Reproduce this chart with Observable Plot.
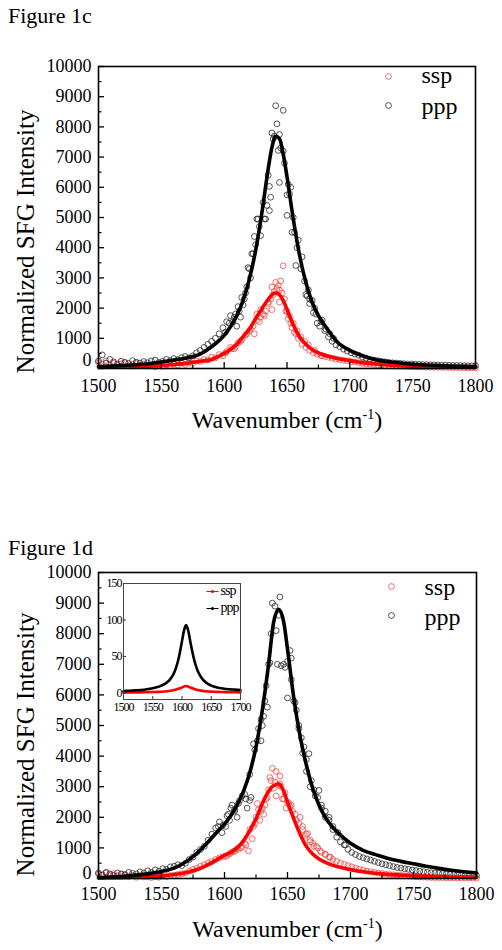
<!DOCTYPE html>
<html>
<head>
<meta charset="utf-8">
<script src="https://cdn.jsdelivr.net/npm/d3@7"></script>
<script src="https://cdn.jsdelivr.net/npm/@observablehq/plot@0.6"></script>
<style>
html,body{margin:0;padding:0;background:#fff;}
#page{position:relative;width:502px;height:950px;overflow:hidden;background:#fff;font-family:"Liberation Serif","DejaVu Serif",serif;}
#page svg, #page svg text{font-family:"Liberation Serif","DejaVu Serif",serif !important;}
.fig{position:absolute;left:8px;z-index:5;font-family:"Liberation Serif","DejaVu Serif",serif;font-size:22px;line-height:22px;color:#000;white-space:nowrap;}
.chart{position:absolute;left:0;width:502px;}
.inset{position:absolute;width:160px;z-index:3;}
</style>
</head>
<body>
<div id="page">
  <div class="chart" id="c1" style="top:0px"></div>
  <div class="chart" id="c2" style="top:470px"></div>
  <div class="inset" id="c3" style="left:90px;top:575px"></div>
  <div class="fig" style="top:5px">Figure 1c</div>
  <div class="fig" style="top:537px">Figure 1d</div>
</div>
<script>
// ---------- text / ticks ----------
const seriesNames = ["ssp", "ppp"];
const xLabelMain = "Wavenumber (cm", xLabelSup = "-1", xLabelEnd = ")";
const xLabel = xLabelMain + xLabelSup + xLabelEnd;
const yLabel = "Normalized SFG Intensity";
const xTicks = [1500, 1550, 1600, 1650, 1700, 1750, 1800];
const xMinorTicks = [1525, 1575, 1625, 1675, 1725, 1775];
const yTicks = [0, 1000, 2000, 3000, 4000, 5000, 6000, 7000, 8000, 9000, 10000];
const yMinorTicks = [500, 1500, 2500, 3500, 4500, 5500, 6500, 7500, 8500, 9500];
const insetXTicks = [1500, 1550, 1600, 1650, 1700];
const insetYTicks = [0, 50, 100, 150];

// ---------- measured points (shared wavenumbers) ----------
const scatterX = [1500,1503,1506,1509,1512,1515,1518,1521,1524,1527,
  1530,1533,1536,1539,1542,1545,1548,1551,1554,1557,
  1560,1563,1566,1569,1572,1575,1578,1581,1584,1587,
  1590,1593,1596,1599,1602,1605,1608,1611,1614,1617,
  1620,1623,1626,1629,1632,1635,1638,1641,1644,1647,
  1650,1653,1656,1659,1662,1665,1668,1671,1674,1677,
  1680,1683,1686,1689,1692,1695,1698,1701,1704,1707,
  1710,1713,1716,1719,1722,1725,1728,1731,1734,1737,
  1740,1743,1746,1749,1752,1755,1758,1761,1764,1767,
  1770,1773,1776,1779,1782,1785,1788,1791,1794,1797,
  1800];

// Figure 1c points
const c_pppPts = [250,450,180,300,220,150,240,200,170,260,
  210,180,230,190,250,280,200,240,300,260,
  330,290,360,400,350,420,520,600,700,800,
  900,1000,1150,1350,1550,1750,1700,2050,2350,2500,
  3300,3800,4950,4400,4950,6400,7800,8700,7750,8550,
  5750,6000,4500,4250,3700,2450,2300,1850,1500,1550,
  1250,1050,900,780,720,640,580,520,480,440,
  380,340,300,280,260,240,220,200,190,180,
  170,160,150,150,140,135,130,125,120,120,
  115,110,110,105,100,100,95,95,90,90,
  90];
const c_pppExtraX = [1642,1640,1643,1647,1636,1644,1637,1652,1634,1636,1650,1627,1633,1654,1624,1622,1657,1619,1618,1670,1666,1615,1613,1673,1676,1610,1668,1612,
  1601,1604,1607,1609,1616,1621,1625,1628,1631,1639,1645,1648,1651,1655,1658,1661,1664,1667,1672,1678,1681,1684,1687];
const c_pppExtraY = [8100,7700,7220,7200,6030,6160,5670,5780,5400,5230,5070,4950,4950,4510,4370,3800,3410,3340,2700,2250,2400,2100,1700,1800,1400,1400,2150,1900,
  1200,1500,1550,1800,2300,3000,4100,4700,5500,7600,7300,6800,6100,5000,4000,3300,2900,2600,2000,1600,1300,1150,1000];
const c_sspPts = [200,150,250,120,180,100,160,200,90,140,
  180,110,150,80,120,60,100,70,120,90,
  150,110,180,140,200,170,250,230,300,280,
  380,350,460,420,560,700,650,850,950,1100,
  1250,1400,1800,1950,1750,2200,2700,2850,2600,3400,
  1900,1500,1200,1000,800,700,600,520,480,430,
  400,370,340,310,290,270,250,230,210,190,
  170,150,140,130,120,110,100,95,90,80,
  75,70,65,60,55,50,50,45,45,40,
  40,38,35,35,30,30,28,25,25,22,
  20];
const c_sspExtraX = [1642,1640,1645,1637,1633,1631,1649,1651,1628,1621,1624,1654,1657,1644,1638,
  1601,1606,1609,1613,1618,1626,1629,1635,1639,1643,1646,1648,1652,1655,1658,1661,1664,1667,1672,1678];
const c_sspExtraY = [2650,2550,2900,2300,1900,1800,1900,1650,1550,1300,1150,1350,1150,2200,1950,
  520,650,720,900,1150,1600,1700,2150,2450,2750,2500,2300,1750,1500,1250,1050,900,780,600,420];

// Figure 1d points
const d_pppPts = [180,120,200,150,100,180,150,130,200,170,
  150,220,180,250,200,280,240,320,300,380,
  400,450,420,500,620,700,850,950,1050,1250,
  1450,1650,1850,1750,2050,2300,2200,2450,2700,2600,
  3400,4400,4500,5200,5800,7000,9000,8100,9200,7000,
  5900,7200,5750,4900,4100,3500,3000,2900,2650,2400,
  2000,1900,1600,1350,1200,1100,950,850,780,720,
  680,640,600,560,520,480,450,420,390,360,
  340,320,300,280,260,240,220,200,190,180,
  170,160,150,140,130,125,120,115,110,100,
  100];
const d_pppExtraX = [1642,1645,1636,1652,1655,1631,1629,1661,1667,1675,1683,1696,1643,1640,1604,1601,1598,1595,1621,1620,1618,1610,1648,1634,
  1603,1606,1608,1612,1616,1624,1627,1630,1633,1637,1650,1653,1657,1659,1663,1665,1669,1672,1677,1680,1686,1690];
const d_pppExtraY = [7000,6950,7050,7450,5800,5300,4500,4600,4080,2880,2000,1100,8600,8900,1900,1700,1500,1700,2650,2550,2300,2000,6900,5600,
  2100,2400,2250,2550,2750,4200,4900,5000,6300,8000,7100,6500,5500,5000,4300,3900,3200,2700,2300,2200,1700,1500];
const d_sspPts = [150,100,180,120,160,90,140,110,60,100,
  40,80,50,70,30,60,40,80,60,100,
  100,130,150,180,240,300,340,400,450,500,
  550,620,680,720,760,850,900,950,1050,1100,
  1600,1700,2450,2200,2400,2900,3600,3500,3100,2600,
  2500,2400,2100,1800,1600,1450,1200,1050,1000,850,
  780,700,620,560,500,460,420,380,340,300,
  270,240,220,200,180,160,140,130,120,110,
  100,90,80,70,60,50,45,40,35,30,
  30,28,25,25,22,20,20,18,18,15,
  15];
const d_sspExtraX = [1637,1639,1643,1645,1641,1646,1652,1649,1628,1625,1619,1622,1660,1666,1673,1634,1631,
  1601,1604,1607,1610,1613,1616,1624,1627,1630,1633,1636,1640,1644,1648,1651,1654,1657,1662,1664,1668,1670,1676,1680,1684];
const d_sspExtraY = [3200,2950,3050,3000,2700,2600,2350,2300,1900,2000,900,1300,2000,1470,1050,2650,2100,
  720,800,880,980,1000,1150,1800,2250,2300,2600,3300,3150,3350,2800,2450,2200,1900,1700,1400,1250,1150,900,800,700];

// ---------- fitted curves ----------
const c_fitX = [1500,1510,1520,1530,1540,1550,1560,1570,1580,1590,
  1600,1605,1610,1615,1620,1625,1630,1635,1638,1641,
  1644,1647,1650,1655,1660,1665,1670,1675,1680,
  1690,1700,1710,1720,1730,1740,1750,1760,1770,1780,1790,1800];
const c_pppFit = [65,80,100,125,160,215,280,350,460,720,
  1100,1380,1750,2250,2950,3900,5150,6600,7320,7690,
  7610,7100,6350,4950,3750,2850,2200,1750,1430,
  880,600,420,300,230,180,140,115,95,80,70,60];
const c_sspFit = [40,45,55,65,80,100,130,170,230,300,
  500,630,800,1050,1300,1650,1980,2290,2440,2500,
  2440,2250,1950,1450,1050,800,630,520,440,
  330,260,195,150,120,95,78,64,54,46,40,35];

const d_fitX = [1500,1510,1520,1530,1540,1550,1560,1570,1580,1590,
  1595,1600,1605,1610,1615,1620,1625,1630,1635,1639,
  1643,1647,1650,1655,1660,1665,1670,1675,1680,
  1690,1700,1710,1720,1730,1740,1750,1760,1770,1780,1790,1800];
const d_pppFit = [30,50,75,110,160,230,340,560,900,1330,
  1560,1780,2050,2400,2850,3450,4300,5500,7000,8380,
  8800,8380,7500,5900,4650,3700,2950,2400,2000,
  1500,1150,920,780,650,560,480,400,330,270,220,180];
const d_sspFit = [15,20,30,45,60,85,130,200,320,520,
  640,760,850,1000,1230,1560,1950,2450,2850,3040,
  3090,2850,2500,1950,1450,1050,800,640,530,
  380,290,220,170,135,110,90,72,60,50,42,35];

// inset (model spectra)
const insetX = [1500,1510,1520,1530,1540,1550,1560,1570,1575,1580,1585,1590,1595,1600,1603,1605,1607,1609,1611,1615,1620,1625,1630,1635,1640,1645,1650,1660,1670,1680,1690,1700];
const insetPPP = [2.5,3,3.5,4,5,6.5,8.5,12,15,19,25,35,50,71,84,90,93,90,84,67,48,34,25,19,15,12,10,7.5,6,5,4.5,4];
const insetSSP = [0.5,0.6,0.7,0.8,1,1.2,1.5,2,2.4,2.9,3.6,4.6,6,7.6,8.6,9.2,9.5,9.2,8.6,7.2,5.6,4.4,3.5,2.8,2.3,2,1.8,1.4,1.2,1,0.9,0.8];

// ---------- styling ----------
const SERIF = '"Liberation Serif","DejaVu Serif",serif';
const RED = "#ff0000", RED_PT = "#f04848", BLK = "#000000", BLK_PT = "#2a2a2a";

function rows(xs, ys) { return xs.map((x, i) => ({x, y: ys[i]})); }
function pts(xs, ys, ex, ey) { return rows(xs, ys).concat(rows(ex, ey)); }
const lineSym = {draw(ctx, size) { const r = Math.sqrt(size / Math.PI); ctx.moveTo(-r, 0); ctx.lineTo(r, 0); }};

function mainChart(cfg) {
  const W = 502, mL = 98;
  const pw = W - mL - cfg.mR, ph = cfg.H - cfg.mT - cfg.mB;
  return Plot.plot({
    width: W, height: cfg.H,
    marginLeft: mL, marginRight: cfg.mR, marginTop: cfg.mT, marginBottom: cfg.mB,
    style: {fontFamily: SERIF, fontSize: "18px", color: "#000", background: "transparent", overflow: "visible"},
    x: {domain: [1500, 1800]},
    y: {domain: [0, 10000]},
    marks: [
      Plot.dot(cfg.sspPts, {x: "x", y: "y", r: 2.9, stroke: RED_PT, strokeWidth: 0.8, fill: "none"}),
      Plot.dot(cfg.pppPts, {x: "x", y: "y", r: 2.9, stroke: BLK_PT, strokeWidth: 0.8, fill: "none"}),
      Plot.line(cfg.sspFit, {x: "x", y: "y", stroke: RED, strokeWidth: 3.6, curve: "monotone-x"}),
      Plot.line(cfg.pppFit, {x: "x", y: "y", stroke: BLK, strokeWidth: 3.6, curve: "monotone-x"}),
      Plot.tickX(xTicks, {x: d => d, insetTop: ph - 6, stroke: "#000", strokeWidth: 1.3}),
      Plot.tickX(xMinorTicks, {x: d => d, insetTop: ph - 3.5, stroke: "#000", strokeWidth: 1.2}),
      Plot.tickY(yTicks, {y: d => d, insetRight: pw - 6, stroke: "#000", strokeWidth: 1.3}),
      Plot.tickY(yMinorTicks, {y: d => d, insetRight: pw - 3.5, stroke: "#000", strokeWidth: 1.2}),
      Plot.frame({stroke: "#000", strokeWidth: 1.6}),
      Plot.axisX({ticks: xTicks, tickSize: 0, tickPadding: cfg.xPad, label: null, fontSize: 18, fontFamily: SERIF, tickFormat: d => String(d)}),
      Plot.axisY({ticks: yTicks.slice(1), tickSize: 0, tickPadding: 7, label: null, fontSize: 18, fontFamily: SERIF, tickFormat: d => String(d)}),
      Plot.axisY({ticks: yTicks.slice(0, 1), tickSize: 0, tickPadding: 7, label: null, fontSize: 18, fontFamily: SERIF, dy: cfg.zeroDy, tickFormat: d => String(d)}),
      Plot.text([xLabel], {text: d => d, frameAnchor: "bottom", dy: cfg.xLabDy, textAnchor: "middle", lineAnchor: "middle", fontSize: 24, fontFamily: SERIF}),
      Plot.text([yLabel], {text: d => d, frameAnchor: "left", dx: -73, dy: cfg.yLabDy, rotate: -90, textAnchor: "middle", lineAnchor: "middle", fontSize: 25, fontFamily: SERIF}),
      Plot.dot([seriesNames[0]], {frameAnchor: "top-right", dx: cfg.legDotDx, dy: cfg.legDotDy[0], r: 2.9, stroke: RED_PT, strokeWidth: 0.8, fill: "none"}),
      Plot.dot([seriesNames[1]], {frameAnchor: "top-right", dx: cfg.legDotDx, dy: cfg.legDotDy[1], r: 2.9, stroke: BLK_PT, strokeWidth: 0.8, fill: "none"}),
      Plot.text([seriesNames[0]], {text: d => d, frameAnchor: "top-right", dx: cfg.legTxtDx, dy: cfg.legTxtDy[0], textAnchor: "start", lineAnchor: "middle", fontSize: 24, fontFamily: SERIF}),
      Plot.text([seriesNames[1]], {text: d => d, frameAnchor: "top-right", dx: cfg.legTxtDx, dy: cfg.legTxtDy[1], textAnchor: "start", lineAnchor: "middle", fontSize: 24, fontFamily: SERIF})
    ]
  });
}

function supLabel(svg) {
  const ns = "http://www.w3.org/2000/svg";
  for (const t of svg.querySelectorAll("text")) {
    if (t.textContent === xLabel && t.children.length === 0) {
      t.textContent = "";
      t.appendChild(document.createTextNode(xLabelMain));
      const s = document.createElementNS(ns, "tspan");
      s.setAttribute("dy", "-9"); s.setAttribute("font-size", "14"); s.textContent = xLabelSup;
      const e = document.createElementNS(ns, "tspan");
      e.setAttribute("dy", "9"); e.textContent = xLabelEnd;
      t.appendChild(s); t.appendChild(e);
    }
  }
}

function insetChart() {
  const W = 160, H = 145, mL = 33, mR = 10, mT = 8, mB = 21;
  const pw = W - mL - mR, ph = H - mT - mB;
  return Plot.plot({
    width: W, height: H, marginLeft: mL, marginRight: mR, marginTop: mT, marginBottom: mB,
    style: {fontFamily: SERIF, fontSize: "12px", letterSpacing: "-1px", color: "#000", background: "transparent", overflow: "visible"},
    x: {domain: [1500, 1700]},
    y: {domain: [-9, 150]},
    marks: [
      Plot.frame({fill: "#fff", stroke: "none"}),
      Plot.line(rows(insetX, insetSSP), {x: "x", y: "y", stroke: RED, strokeWidth: 2.6, curve: "monotone-x"}),
      Plot.line(rows(insetX, insetPPP), {x: "x", y: "y", stroke: BLK, strokeWidth: 2.6, curve: "monotone-x"}),
      Plot.tickX(insetXTicks, {x: d => d, insetTop: ph - 3, stroke: "#333"}),
      Plot.tickY(insetYTicks, {y: d => d, insetRight: pw - 3, stroke: "#333"}),
      Plot.frame({stroke: "#444", strokeWidth: 1}),
      Plot.axisX({ticks: insetXTicks, tickSize: 0, tickPadding: 3, label: null, fontFamily: SERIF, tickFormat: d => String(d)}),
      Plot.axisY({ticks: insetYTicks, tickSize: 0, tickPadding: 2, label: null, fontFamily: SERIF, tickFormat: d => String(d)}),
      Plot.dot([seriesNames[0]], {frameAnchor: "top-right", dx: -28, dy: 8, r: 6, symbol: lineSym, stroke: RED, strokeWidth: 1, fill: "none"}),
      Plot.dot([seriesNames[0]], {frameAnchor: "top-right", dx: -28, dy: 8, r: 1.6, fill: RED, stroke: "none"}),
      Plot.dot([seriesNames[1]], {frameAnchor: "top-right", dx: -28, dy: 25, r: 6, symbol: lineSym, stroke: BLK, strokeWidth: 1, fill: "none"}),
      Plot.dot([seriesNames[1]], {frameAnchor: "top-right", dx: -28, dy: 25, r: 1.6, fill: BLK, stroke: "none"}),
      Plot.text([seriesNames[0]], {text: d => d, frameAnchor: "top-right", dx: -20, dy: 7, textAnchor: "start", lineAnchor: "middle", fontSize: 14, fontFamily: SERIF}),
      Plot.text([seriesNames[1]], {text: d => d, frameAnchor: "top-right", dx: -20, dy: 24, textAnchor: "start", lineAnchor: "middle", fontSize: 14, fontFamily: SERIF})
    ]
  });
}

const chart1 = mainChart({
  H: 470, mT: 66, mB: 102, mR: 27, xPad: 11, zeroDy: -8, xLabDy: 52, yLabDy: 24,
  sspPts: pts(scatterX, c_sspPts, c_sspExtraX, c_sspExtraY),
  pppPts: pts(scatterX, c_pppPts, c_pppExtraX, c_pppExtraY),
  sspFit: rows(c_fitX, c_sspFit), pppFit: rows(c_fitX, c_pppFit),
  legDotDx: -87, legDotDy: [10, 39], legTxtDx: -54, legTxtDy: [9, 40]
});
supLabel(chart1);
document.getElementById("c1").appendChild(chart1);

const chart2 = mainChart({
  H: 480, mT: 102, mB: 72, mR: 26, xPad: 9, zeroDy: -5, xLabDy: 51, yLabDy: 19,
  sspPts: pts(scatterX, d_sspPts, d_sspExtraX, d_sspExtraY),
  pppPts: pts(scatterX, d_pppPts, d_pppExtraX, d_pppExtraY),
  sspFit: rows(d_fitX, d_sspFit), pppFit: rows(d_fitX, d_pppFit),
  legDotDx: -85, legDotDy: [14, 43], legTxtDx: -52, legTxtDy: [15, 45]
});
supLabel(chart2);
document.getElementById("c2").appendChild(chart2);

document.getElementById("c3").appendChild(insetChart());
</script>
</body>
</html>
